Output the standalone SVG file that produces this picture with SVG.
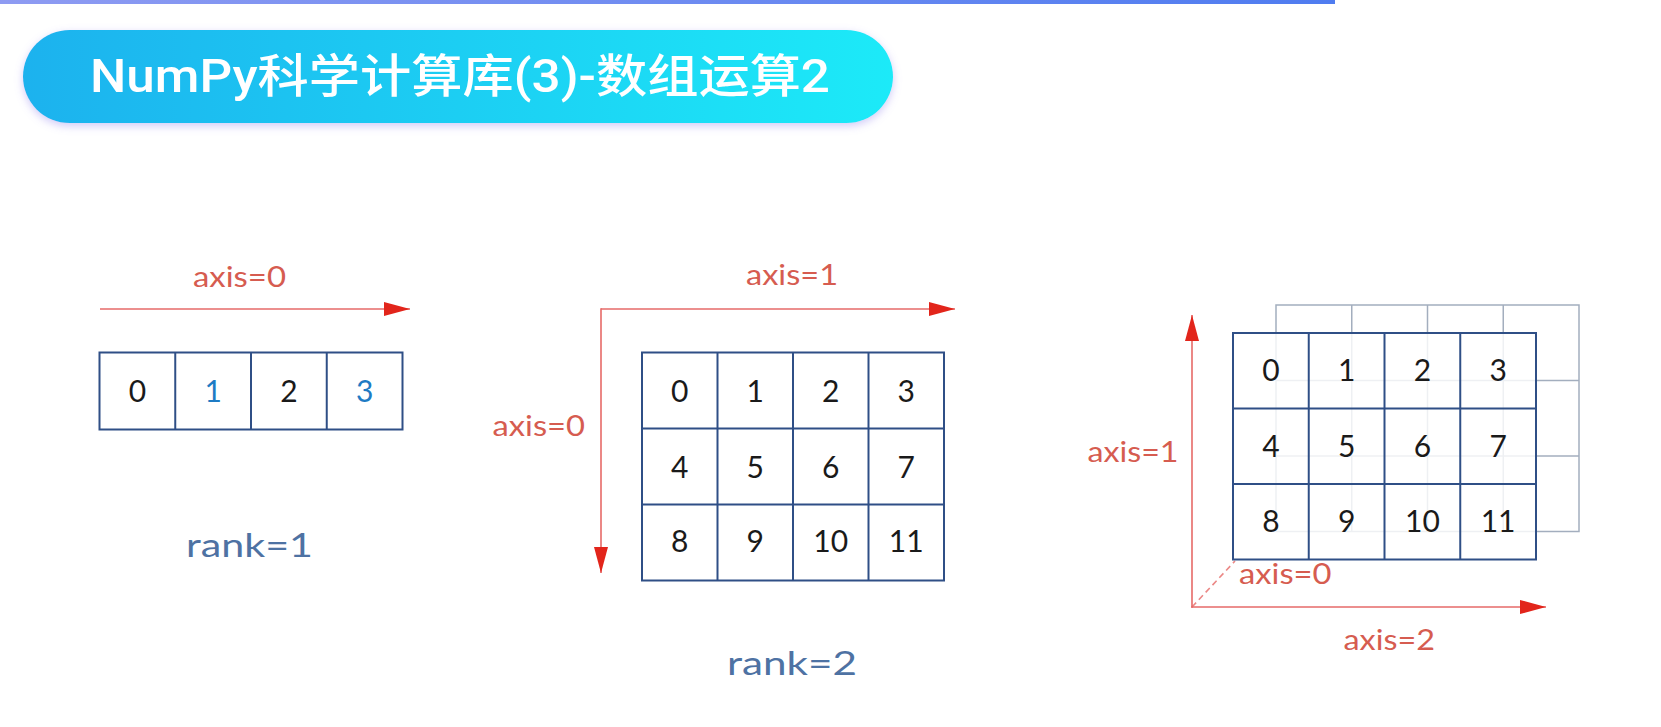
<svg xmlns="http://www.w3.org/2000/svg" width="1661" height="727" viewBox="0 0 1661 727">
<defs>
<linearGradient id="topbar" x1="0" y1="0" x2="1" y2="0">
<stop offset="0" stop-color="#8E9BF2"/>
<stop offset="1" stop-color="#4F7CF0"/>
</linearGradient>
<linearGradient id="pill" x1="0" y1="0" x2="1" y2="0">
<stop offset="0" stop-color="#1FB2EE"/>
<stop offset="1" stop-color="#1BEAF8"/>
</linearGradient>
<filter id="glow" x="-5%" y="-30%" width="110%" height="160%">
<feDropShadow dx="0" dy="3" stdDeviation="4" flood-color="#9A8CF0" flood-opacity="0.45"/>
</filter>
<marker id="ah" markerUnits="userSpaceOnUse" markerWidth="26" markerHeight="14" refX="26" refY="7" orient="auto">
<path d="M0,0 L26,7 L0,14 z" fill="#E2251B"/>
</marker>
<style>
.ax{stroke:#E66A68;stroke-width:1.6;fill:none}
.lbl{font-family:Lato,"Open Sans",sans-serif;font-size:28px;fill:#D65C50}
.rank{font-family:Lato,"Open Sans",sans-serif;font-size:33px;fill:#4E72A3}
.num{font-family:Lato,"Open Sans",sans-serif;font-size:30px;fill:#1A1A1A;text-anchor:middle}
.blue{fill:#1E7BC4}
.grid{stroke:#2F4F86;stroke-width:2;fill:none}
.cell{fill:#FFFFFF;stroke:none}
.back{stroke:#A3AEBE;stroke-width:1.5;fill:none}
</style>
</defs>
<rect x="0" y="0" width="1661" height="727" fill="#FFFFFF"/>
<rect x="0" y="0" width="1335" height="4" fill="url(#topbar)"/>

<g id="title">
<rect x="23" y="30" width="870" height="93" rx="46.5" fill="url(#pill)" filter="url(#glow)"/>
<text x="90" y="92" font-family="Roboto,'Noto Sans CJK SC',sans-serif" font-weight="500" font-size="46" fill="#FFFFFF" textLength="740" lengthAdjust="spacingAndGlyphs">NumPy科学计算库(3)-数组运算2</text>
</g>

<g id="connectors">
<line class="ax" x1="100" y1="309" x2="410" y2="309" marker-end="url(#ah)"/>
<line class="ax" x1="601" y1="309" x2="955" y2="309" marker-end="url(#ah)"/>
<line class="ax" x1="601" y1="308.2" x2="601" y2="573" marker-end="url(#ah)"/>
<line class="ax" x1="1192" y1="607.8" x2="1192" y2="315" marker-end="url(#ah)"/>
<line class="ax" x1="1191.2" y1="607" x2="1546" y2="607" marker-end="url(#ah)"/>
<line class="ax" x1="1192" y1="607" x2="1235" y2="561" stroke-dasharray="6 4" stroke-width="1.3" opacity="0.8"/>
</g>

<g id="rank1">
<text class="lbl" x="193" y="287" textLength="93" lengthAdjust="spacingAndGlyphs">axis=0</text>
<rect class="grid" x="99.5" y="352.5" width="303" height="77"/>
<line class="grid" x1="175.25" y1="352.5" x2="175.25" y2="429.5"/>
<line class="grid" x1="251" y1="352.5" x2="251" y2="429.5"/>
<line class="grid" x1="326.75" y1="352.5" x2="326.75" y2="429.5"/>
<text class="num" x="137.4" y="401.5">0</text>
<text class="num blue" x="213.1" y="401.5">1</text>
<text class="num" x="288.9" y="401.5">2</text>
<text class="num blue" x="364.6" y="401.5">3</text>
<text class="rank" x="186" y="557" textLength="127" lengthAdjust="spacingAndGlyphs">rank=1</text>
</g>

<g id="rank2">
<text class="lbl" x="746" y="285" textLength="92" lengthAdjust="spacingAndGlyphs">axis=1</text>
<text class="lbl" x="492.5" y="435.5" textLength="92.5" lengthAdjust="spacingAndGlyphs">axis=0</text>
<rect class="grid" x="642" y="352.5" width="302" height="228"/>
<line class="grid" x1="717.5" y1="352.5" x2="717.5" y2="580.5"/>
<line class="grid" x1="793" y1="352.5" x2="793" y2="580.5"/>
<line class="grid" x1="868.5" y1="352.5" x2="868.5" y2="580.5"/>
<line class="grid" x1="642" y1="428.5" x2="944" y2="428.5"/>
<line class="grid" x1="642" y1="504.5" x2="944" y2="504.5"/>
<text class="num" x="679.75" y="401.5">0</text>
<text class="num" x="755.25" y="401.5">1</text>
<text class="num" x="830.75" y="401.5">2</text>
<text class="num" x="906.25" y="401.5">3</text>
<text class="num" x="679.75" y="477.5">4</text>
<text class="num" x="755.25" y="477.5">5</text>
<text class="num" x="830.75" y="477.5">6</text>
<text class="num" x="906.25" y="477.5">7</text>
<text class="num" x="679.75" y="552">8</text>
<text class="num" x="755.25" y="552">9</text>
<text class="num" x="830.75" y="552">10</text>
<text class="num" x="906.25" y="552">11</text>
<text class="rank" x="727" y="675" textLength="130" lengthAdjust="spacingAndGlyphs">rank=2</text>
</g>

<g id="rank3">
<g id="rank3-back">
<rect class="back" x="1276" y="305" width="303" height="226.5"/>
<line class="back" x1="1351.75" y1="305" x2="1351.75" y2="531.5"/>
<line class="back" x1="1427.5" y1="305" x2="1427.5" y2="531.5"/>
<line class="back" x1="1503.25" y1="305" x2="1503.25" y2="531.5"/>
<line class="back" x1="1276" y1="380.5" x2="1579" y2="380.5"/>
<line class="back" x1="1276" y1="456" x2="1579" y2="456"/>
</g>
<g id="rank3-front">
<rect class="cell" x="1233" y="333" width="303" height="226.5" opacity="0.82"/>
<rect class="grid" x="1233" y="333" width="303" height="226.5"/>
<line class="grid" x1="1308.75" y1="333" x2="1308.75" y2="559.5"/>
<line class="grid" x1="1384.5" y1="333" x2="1384.5" y2="559.5"/>
<line class="grid" x1="1460.25" y1="333" x2="1460.25" y2="559.5"/>
<line class="grid" x1="1233" y1="408.5" x2="1536" y2="408.5"/>
<line class="grid" x1="1233" y1="484" x2="1536" y2="484"/>
<text class="num" x="1270.9" y="381">0</text>
<text class="num" x="1346.6" y="381">1</text>
<text class="num" x="1422.4" y="381">2</text>
<text class="num" x="1498.1" y="381">3</text>
<text class="num" x="1270.9" y="456.5">4</text>
<text class="num" x="1346.6" y="456.5">5</text>
<text class="num" x="1422.4" y="456.5">6</text>
<text class="num" x="1498.1" y="456.5">7</text>
<text class="num" x="1270.9" y="532">8</text>
<text class="num" x="1346.6" y="532">9</text>
<text class="num" x="1422.4" y="532">10</text>
<text class="num" x="1498.1" y="532">11</text>
</g>
<text class="lbl" x="1087.5" y="461.5" textLength="91" lengthAdjust="spacingAndGlyphs">axis=1</text>
<text class="lbl" x="1239" y="583.5" textLength="92.5" lengthAdjust="spacingAndGlyphs">axis=0</text>
<text class="lbl" x="1343.5" y="649.5" textLength="91.5" lengthAdjust="spacingAndGlyphs">axis=2</text>
</g>
</svg>
